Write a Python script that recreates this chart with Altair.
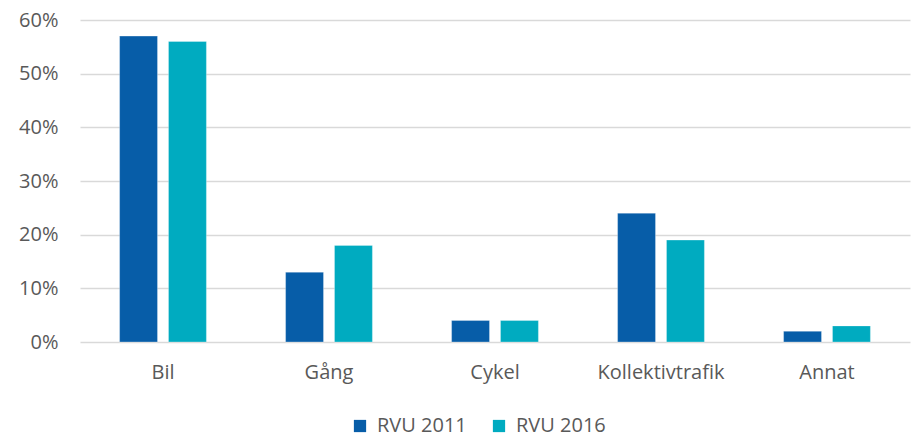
import altair as alt
import pandas as pd

categories = ["Bil", "Gång", "Cykel", "Kollektivtrafik", "Annat"]
series = ["RVU 2011", "RVU 2016"]
rvu2011 = [0.57, 0.13, 0.04, 0.24, 0.02]
rvu2016 = [0.56, 0.18, 0.04, 0.19, 0.03]
colors = ["#075DA8", "#00ABC0"]

rows = []
for c, a, b in zip(categories, rvu2011, rvu2016):
    rows.append({"kategori": c, "serie": series[0], "andel": a})
    rows.append({"kategori": c, "serie": series[1], "andel": b})
df = pd.DataFrame(rows)

FONT = "Open Sans"
GRAY = "#595959"
FS = 20

chart = alt.Chart(df).mark_bar(stroke="#ffffff", strokeWidth=0.6, strokeOpacity=0.5).encode(
    x=alt.X("kategori:N", sort=categories, title=None,
            scale=alt.Scale(paddingInner=0.477, paddingOuter=0.2385),
            axis=alt.Axis(labelAngle=0, ticks=False, domain=False, labelPadding=20,
                          labelFontSize=FS, labelColor=GRAY, labelFont=FONT, grid=False)),
    xOffset=alt.XOffset("serie:N", sort=series,
                        scale=alt.Scale(paddingInner=0.2245, paddingOuter=0)),
    y=alt.Y("andel:Q", title=None,
            scale=alt.Scale(domain=[0, 0.6], nice=False),
            axis=alt.Axis(format=".0%", values=[0, 0.1, 0.2, 0.3, 0.4, 0.5, 0.6],
                          ticks=False, domain=False, labelPadding=22,
                          labelFontSize=FS, labelColor=GRAY, labelFont=FONT,
                          gridColor="#d9d9d9", gridWidth=1.5)),
    color=alt.Color("serie:N", sort=series,
                    scale=alt.Scale(domain=series, range=colors),
                    legend=alt.Legend(title=None, orient="none", direction="horizontal",
                                      legendX=270, legendY=396,
                                      symbolType="square", symbolSize=150,
                                      symbolStrokeWidth=0, columnPadding=22,
                                      labelFontSize=FS, labelColor=GRAY, labelFont=FONT,
                                      labelOffset=7)),
).properties(
    width=830, height=322,
    autosize=alt.AutoSizeParams(type="none"),
    padding={"left": 72, "top": 12, "right": 4, "bottom": 95},
).configure_view(stroke=None)

chart.save("out.html", embed_options={"renderer": "svg", "actions": False})
